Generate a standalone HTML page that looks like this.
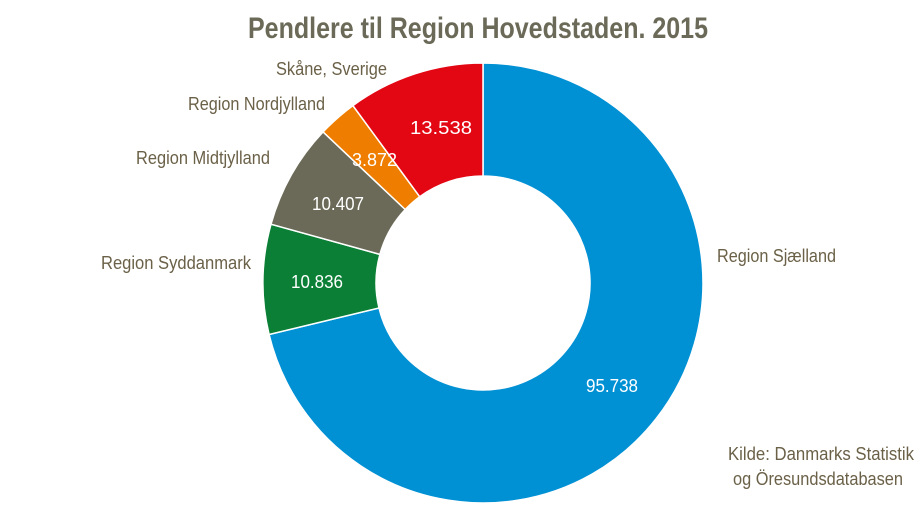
<!DOCTYPE html>
<html><head><meta charset="utf-8"><style>
html,body{margin:0;padding:0;background:#fff;}
svg{display:block;}
text{font-family:"Liberation Sans Narrow","Liberation Sans",sans-serif;}
</style></head><body>
<svg width="916" height="515" viewBox="0 0 916 515" xmlns="http://www.w3.org/2000/svg">
<text x="478" y="38" text-anchor="middle" font-size="30" font-weight="bold" fill="#6b6a58" textLength="460" lengthAdjust="spacingAndGlyphs">Pendlere til Region Hovedstaden. 2015</text>
<g stroke="#fff" stroke-width="1.5">
<path d="M483,63 A220,220 0 1 1 269.1,334.5 L379,308 A107,107 0 1 0 483,176 Z" fill="#0090d4"/>
<path d="M269.1,334.5 A220,220 0 0 1 271,224.2 L379.9,254.4 A107,107 0 0 0 379,308 Z" fill="#0a7f35"/>
<path d="M271,224.2 A220,220 0 0 1 323.1,131.9 L405.2,209.5 A107,107 0 0 0 379.9,254.4 Z" fill="#6b6a58"/>
<path d="M323.1,131.9 A220,220 0 0 1 352.9,105.6 L419.7,196.7 A107,107 0 0 0 405.2,209.5 Z" fill="#ef7d00"/>
<path d="M352.9,105.6 A220,220 0 0 1 483,63 L483,176 A107,107 0 0 0 419.7,196.7 Z" fill="#e30613"/>
</g>
<g font-size="18" fill="#fff">
<text x="410" y="134" textLength="62" lengthAdjust="spacingAndGlyphs">13.538</text>
<text x="352" y="166" textLength="45" lengthAdjust="spacingAndGlyphs">3.872</text>
<text x="312" y="210" textLength="52" lengthAdjust="spacingAndGlyphs">10.407</text>
<text x="291" y="288" textLength="52" lengthAdjust="spacingAndGlyphs">10.836</text>
<text x="586" y="392" textLength="52" lengthAdjust="spacingAndGlyphs">95.738</text>
</g>
<g font-size="18" fill="#6b6148">
<text x="276" y="75" textLength="111" lengthAdjust="spacingAndGlyphs">Skåne, Sverige</text>
<text x="188" y="110" textLength="137" lengthAdjust="spacingAndGlyphs">Region Nordjylland</text>
<text x="136" y="164" textLength="134" lengthAdjust="spacingAndGlyphs">Region Midtjylland</text>
<text x="101" y="269" textLength="150" lengthAdjust="spacingAndGlyphs">Region Syddanmark</text>
<text x="717" y="262" textLength="119" lengthAdjust="spacingAndGlyphs">Region Sjælland</text>
<text x="728" y="460" textLength="186" lengthAdjust="spacingAndGlyphs">Kilde: Danmarks Statistik</text>
<text x="733" y="485" textLength="170" lengthAdjust="spacingAndGlyphs">og Öresundsdatabasen</text>
</g>
</svg>
</body></html>
